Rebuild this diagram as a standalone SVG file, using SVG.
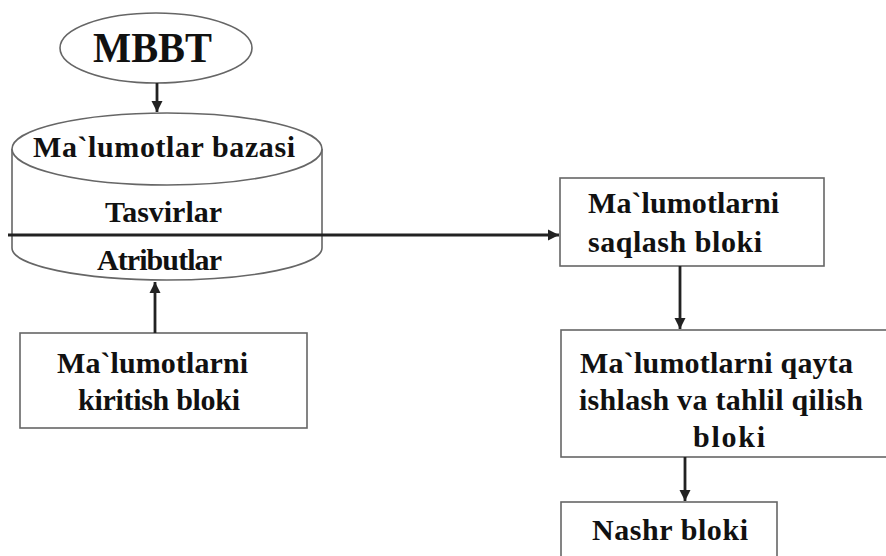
<svg xmlns="http://www.w3.org/2000/svg" width="886" height="556" viewBox="0 0 886 556">
<defs>
<style>
.shape{fill:#fff;stroke:#666;stroke-width:1.6}
.t{font-family:"Liberation Serif","Times New Roman",serif;font-weight:bold;font-size:30px;fill:#111}
.c{stroke:#222;stroke-width:2.8;fill:none}
</style>
<marker id="ah" viewBox="0 0 10 10" refX="10" refY="5" markerWidth="4" markerHeight="4" orient="auto" markerUnits="strokeWidth">
<path d="M0,0 L10,5 L0,10 z" fill="#222"/>
</marker>
</defs>
<rect width="886" height="556" fill="#fff"/>
<g id="mbbt">
<ellipse class="shape" cx="156" cy="48" rx="96" ry="35"/>
<text class="t" x="93" y="62" textLength="119" lengthAdjust="spacingAndGlyphs" style="font-size:42px">MBBT</text>
</g>
<g id="database">
<path class="shape" d="M12,149 L12,248 A155,32 0 0 0 322,248 L322,149"/>
<ellipse class="shape" cx="167" cy="149" rx="155" ry="36"/>
<text class="t" x="33" y="157" textLength="262" lengthAdjust="spacing">Ma`lumotlar bazasi</text>
<text class="t" x="105" y="222" textLength="117" lengthAdjust="spacing">Tasvirlar</text>
<text class="t" x="97" y="270" textLength="125" lengthAdjust="spacing">Atributlar</text>
</g>
<g id="kiritish">
<rect class="shape" x="20" y="333" width="287" height="95"/>
<text class="t" x="57" y="373" textLength="191" lengthAdjust="spacing">Ma`lumotlarni</text>
<text class="t" x="78" y="410" textLength="162" lengthAdjust="spacing">kiritish bloki</text>
</g>
<g id="saqlash">
<rect class="shape" x="560" y="178" width="264" height="88"/>
<text class="t" x="588" y="213" textLength="191" lengthAdjust="spacing">Ma`lumotlarni</text>
<text class="t" x="588" y="252" textLength="174" lengthAdjust="spacing">saqlash bloki</text>
</g>
<g id="qayta">
<rect class="shape" x="561" y="330" width="340" height="127"/>
<text class="t" x="580" y="373" textLength="273" lengthAdjust="spacing">Ma`lumotlarni qayta</text>
<text class="t" x="579" y="410" textLength="284" lengthAdjust="spacing">ishlash va tahlil qilish</text>
<text class="t" x="693" y="447" textLength="72" lengthAdjust="spacing">bloki</text>
</g>
<g id="nashr">
<rect class="shape" x="561" y="502" width="216" height="70"/>
<text class="t" x="592" y="540" textLength="156" lengthAdjust="spacing">Nashr bloki</text>
</g>
<g id="connectors">
<line class="c" x1="157" y1="83" x2="157" y2="112" marker-end="url(#ah)"/>
<line class="c" x1="155" y1="333" x2="155" y2="282" marker-end="url(#ah)"/>
<line class="c" x1="8" y1="235" x2="559" y2="235" marker-end="url(#ah)"/>
<line class="c" x1="680" y1="266" x2="680" y2="329" marker-end="url(#ah)"/>
<line class="c" x1="685" y1="457" x2="685" y2="501" marker-end="url(#ah)"/>
</g>
</svg>
